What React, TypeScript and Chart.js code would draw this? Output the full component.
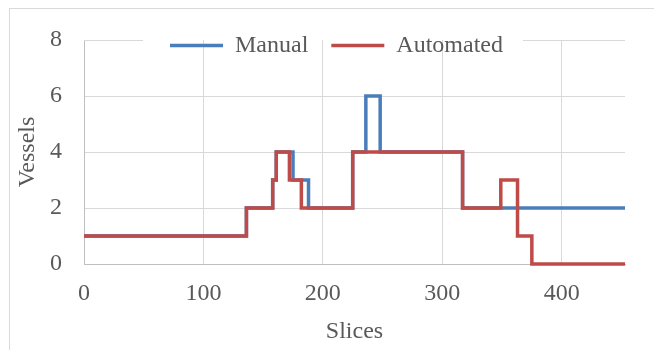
import React, { useEffect, useRef } from 'react';
import { Chart, registerables } from 'chart.js';

Chart.register(...registerables);

// ---- data ----
const seriesNames = ['Manual', 'Automated'];
const manualSlices = [0, 136, 158, 161, 175, 188, 225, 236, 248, 317, 453];
const manualVessels = [1, 2, 3, 4, 3, 2, 4, 6, 4, 2, 2];
const automatedSlices = [0, 136, 158, 161, 172, 182, 225, 317, 349, 363, 375, 453];
const automatedVessels = [1, 2, 3, 4, 3, 2, 4, 2, 3, 1, 0, 0];
const xMin = 0;
const xMax = 453;
const xStep = 100;
const yMin = 0;
const yMax = 8;
const yStep = 2;
const xTitle = 'Slices';
const yTitle = 'Vessels';

// ---- style ----
const FONT = "'Liberation Serif', 'Times New Roman', serif";
const TEXT = '#595959';
const GRID = '#d9d9d9';
const AXIS = '#bfbfbf';
const BLUE = '#4a7ebb';
const RED = '#be4b48';

const toPoints = (xs: number[], ys: number[]) => xs.map((x, i) => ({ x, y: ys[i] }));

const framePlugin = {
  id: 'frame',
  beforeDraw(chart: any) {
    const ctx = chart.ctx;
    ctx.save();
    ctx.fillStyle = '#ffffff';
    ctx.fillRect(0, 0, chart.width, chart.height);
    ctx.strokeStyle = GRID;
    ctx.lineWidth = 1;
    ctx.strokeRect(9.5, 8.5, chart.width + 20, chart.height + 20);
    ctx.restore();
  },
};

const LEGEND_START_X = 170;
const LEGEND_DY = 10.5;

const legendPlace = {
  id: 'legendPlace',
  afterLayout(chart: any) {
    const lg = chart.legend;
    if (!lg || !lg.lineWidths) return;
    const pad = lg.options.labels.padding;
    const start = (lg.left + pad + lg.right - lg.lineWidths[0]) / 2;
    const dx = LEGEND_START_X - start;
    lg.left += dx;
    lg.right += dx;
    lg.top += LEGEND_DY;
    lg.bottom = lg.top + 80;
    lg.height = 80;
  },
};

const topGrid = {
  id: 'topGrid',
  beforeDatasetsDraw(chart: any) {
    const { ctx, chartArea, scales, legend } = chart;
    const y = Math.round(scales.y.getPixelForValue(yMax)) + 0.5;
    const hbs = legend && legend.legendHitBoxes;
    ctx.save();
    ctx.strokeStyle = GRID;
    ctx.lineWidth = 1;
    ctx.beginPath();
    if (hbs && hbs.length) {
      const first = hbs[0];
      const last = hbs[hbs.length - 1];
      ctx.moveTo(chartArea.left, y);
      ctx.lineTo(first.left - 27, y);
      ctx.moveTo(last.left + last.width + 20, y);
      ctx.lineTo(chartArea.right, y);
    } else {
      ctx.moveTo(chartArea.left, y);
      ctx.lineTo(chartArea.right, y);
    }
    ctx.stroke();
    ctx.restore();
  },
};

export default function App() {
  const ref = useRef<HTMLCanvasElement>(null);
  useEffect(() => {
    const canvas = ref.current;
    if (!canvas) return;
    const chart = new Chart(canvas, {
      type: 'line',
      data: {
        datasets: [
          {
            label: seriesNames[0],
            data: toPoints(manualSlices, manualVessels),
            borderColor: BLUE,
            backgroundColor: BLUE,
            borderWidth: 3.5,
            pointRadius: 0,
            pointStyle: 'line',
            stepped: true,
            fill: false,
            clip: false,
            order: 1,
          },
          {
            label: seriesNames[1],
            data: toPoints(automatedSlices, automatedVessels),
            borderColor: RED,
            backgroundColor: RED,
            borderWidth: 3.5,
            pointRadius: 0,
            pointStyle: 'line',
            stepped: true,
            fill: false,
            clip: false,
            order: 0,
          },
        ],
      },
      options: {
        responsive: false,
        animation: false,
        events: [],
        layout: { padding: { left: 0, right: 29, top: 0, bottom: 0 } },
        plugins: {
          tooltip: { enabled: false },
          legend: {
            display: true,
            position: 'top',
            maxHeight: 40,
            labels: {
              usePointStyle: true,
              pointStyle: 'line',
              pointStyleWidth: 53,
              padding: 23,
              color: TEXT,
              font: { family: FONT, size: 24 },
              sort: (a: any, b: any) => a.datasetIndex - b.datasetIndex,
            },
          },
        },
        scales: {
          x: {
            type: 'linear',
            min: xMin,
            max: xMax,
            afterFit: (s: any) => {
              s.height = 86;
            },
            ticks: {
              stepSize: xStep,
              includeBounds: false,
              color: TEXT,
              padding: 15,
              font: { family: FONT, size: 24 },
              maxRotation: 0,
            },
            grid: { color: GRID, lineWidth: 1, drawTicks: false },
            border: { color: AXIS, width: 1 },
            title: {
              display: true,
              text: xTitle,
              color: TEXT,
              font: { family: FONT, size: 24 },
              padding: { top: 0, bottom: 4 },
            },
          },
          y: {
            type: 'linear',
            min: yMin,
            max: yMax,
            afterFit: (s: any) => {
              s.width = 84;
            },
            ticks: {
              stepSize: yStep,
              color: TEXT,
              padding: 22,
              font: { family: FONT, size: 24 },
            },
            grid: {
              color: (c: any) => (c.tick && c.tick.value === yMax ? 'rgba(0,0,0,0)' : GRID),
              lineWidth: 1,
              drawTicks: false,
            },
            border: { color: AXIS, width: 1 },
            title: {
              display: true,
              text: yTitle,
              color: TEXT,
              font: { family: FONT, size: 24 },
              padding: { top: 13, bottom: 0 },
            },
          },
        },
      },
      plugins: [framePlugin, legendPlace, topGrid],
    } as any);
    return () => chart.destroy();
  }, []);
  return (
    <div style={{ position: 'fixed', left: 0, top: 0, width: 654, height: 350, background: '#fff' }}>
      <canvas ref={ref} width={654} height={350} style={{ display: 'block' }} />
    </div>
  );
}
